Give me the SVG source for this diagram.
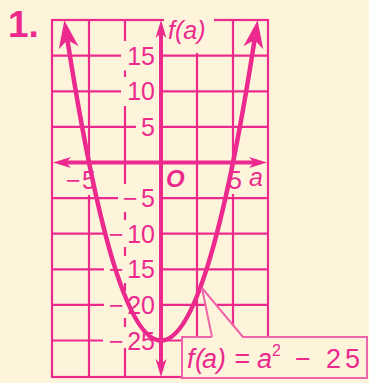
<svg xmlns="http://www.w3.org/2000/svg" width="369" height="383" viewBox="0 0 369 383">
<style>
.grid{stroke:#EC2A8E;stroke-width:2.2;fill:none}
.axis{stroke:#EC2A8E;stroke-width:4;fill:none}
.curve{stroke:#EC2A8E;stroke-width:4.5;fill:none}
.bg{fill:#FEF4DC}
.lbl{font-family:"Liberation Sans",Arial,sans-serif;font-size:25px;fill:#EC2A8E}
.it{font-style:italic}
</style>
<defs>
<marker id="ah" markerUnits="userSpaceOnUse" viewBox="-20 -7 22 14" markerWidth="22" markerHeight="14" refX="-13" refY="0" orient="auto-start-reverse">
<path d="M0,0 L-18,-5.5 L-13,0 L-18,5.5 Z" fill="#EC2A8E"/>
</marker>
<marker id="bh" markerUnits="userSpaceOnUse" viewBox="-30 -12 32 24" markerWidth="32" markerHeight="24" refX="-20" refY="0" orient="auto-start-reverse">
<path d="M0,0 L-28,-10 L-20,0 L-28,10 Z" fill="#EC2A8E"/>
</marker>
</defs>
<rect x="0" y="0" width="369" height="383" fill="#FEF4DC"/>
<text x="8" y="37" class="lbl" style="font-size:37px;font-weight:bold">1.</text>
<g id="grid">
<rect class="grid" x="52" y="20" width="216" height="357"/>
<path class="grid" d="M89,20V377M125,20V377M197,20V377M233,20V377M52,55.7H268M52,91.3H268M52,126.9H268M52,198.1H268M52,233.7H268M52,269.3H268M52,304.9H268M52,340.5H268"/>
</g>
<g id="label-bgs">
<rect class="bg" x="164" y="12" width="50" height="41"/>
<rect class="bg" x="121" y="41" width="38" height="29.5"/>
<rect class="bg" x="121" y="77" width="38" height="29"/>
<rect class="bg" x="136" y="113" width="23" height="28"/>
<rect class="bg" x="118" y="184" width="41" height="28"/>
<rect class="bg" x="104" y="220" width="55" height="27"/>
<rect class="bg" x="104" y="256" width="55" height="27"/>
<rect class="bg" x="104" y="291" width="55" height="27"/>
<rect class="bg" x="103" y="327" width="56" height="21"/>
<rect class="bg" x="62" y="166" width="37" height="29"/>
<rect class="bg" x="225" y="166" width="19" height="28"/>
</g>
<g id="y-labels">
<text class="lbl" x="127.2" y="65">15</text>
<text class="lbl" x="127.2" y="100.3">10</text>
<text class="lbl" x="141.1" y="135.5">5</text>
<text class="lbl" x="123 141.1" y="207">−5</text>
<text class="lbl" x="109 127.2" y="242.7">−10</text>
<text class="lbl" x="109 127.2" y="278.3">−15</text>
<text class="lbl" x="109 127.2" y="313.9">−20</text>
<text class="lbl" x="109 127.2" y="349.5">−25</text>
</g>
<g id="x-labels">
<text class="lbl" x="66 82" y="189">−5</text>
<text class="lbl" x="228" y="189">5</text>
<text class="lbl it" x="249" y="186">a</text>
<text class="lbl" x="166" y="187" style="font-style:italic;font-weight:bold;font-size:24px">O</text>
<text class="lbl it" x="168" y="39">f(a)</text>
</g>
<g id="connectors">
<path class="axis" d="M66,162.5H254" marker-start="url(#ah)" marker-end="url(#ah)"/>
<path class="axis" d="M161,33V364" marker-start="url(#ah)" marker-end="url(#ah)"/>
<path class="curve" d="M67.43,39.9 Q161,641.1 254.57,39.9" marker-start="url(#bh)" marker-end="url(#bh)"/>
</g>
<g id="callout">
<rect x="182" y="337" width="185" height="41" fill="#FEF4DC" stroke="#F064AA" stroke-width="2"/>
<polygon points="202,288 212,338.5 243,338.5" fill="#FEF4DC"/>
<polyline points="212,337 202,288 243,337" fill="none" stroke="#F064AA" stroke-width="2"/>
<text class="lbl" style="font-size:27px"><tspan x="187 195 202 217 226 234 250 257" y="368" class="it">f(a) = a</tspan><tspan x="272" y="356" style="font-size:16px">2</tspan><tspan x="295 310 326 345" y="368">− 25</tspan></text>
</g>
</svg>
